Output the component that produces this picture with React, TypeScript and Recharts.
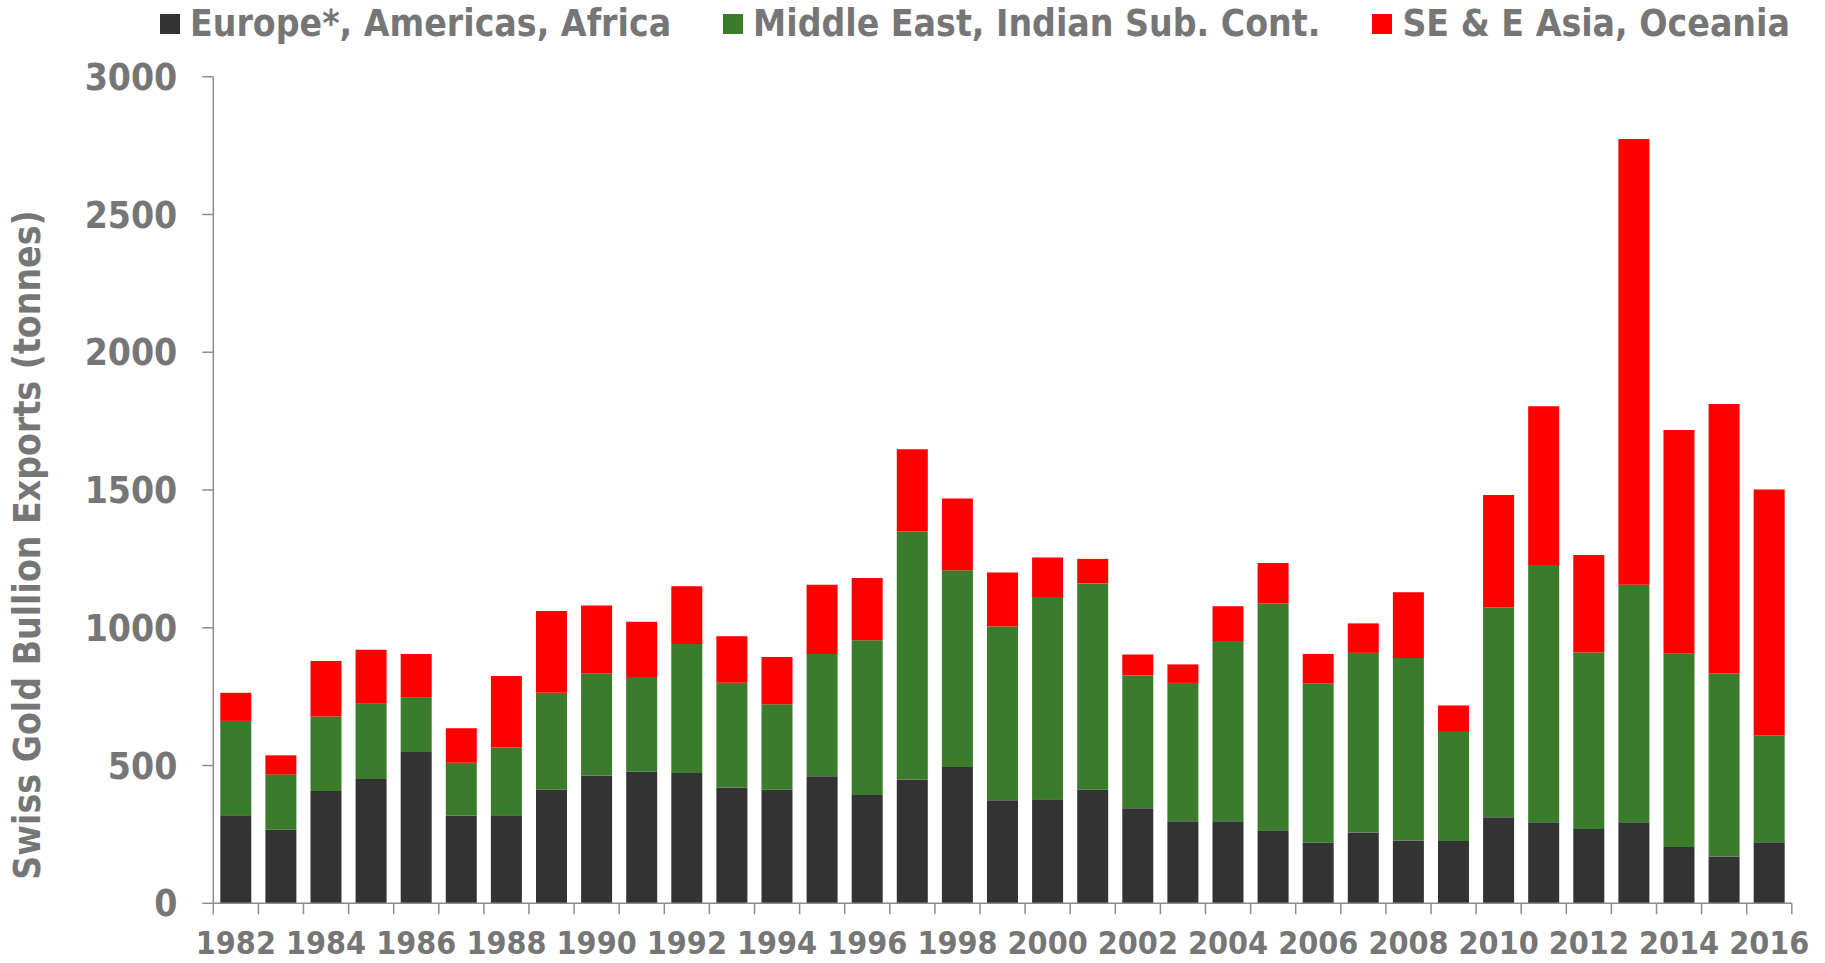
import React from 'react';
import { BarChart, Bar, XAxis, YAxis, Legend, Label } from 'recharts';

const years = [
  '1982', '1983', '1984', '1985', '1986', '1987', '1988', '1989', '1990', '1991',
  '1992', '1993', '1994', '1995', '1996', '1997', '1998', '1999', '2000', '2001',
  '2002', '2003', '2004', '2005', '2006', '2007', '2008', '2009', '2010', '2011',
  '2012', '2013', '2014', '2015', '2016',
];

const europeAmericasAfrica = [
  320, 267, 408, 451, 549, 319, 320, 412, 464, 477,
  473, 420, 412, 461, 393, 449, 495, 374, 378, 412,
  345, 298, 298, 265, 220, 257, 228, 226, 312, 294,
  270, 294, 204, 170, 222,
];

const middleEastIndia = [
  342, 201, 270, 273, 197, 191, 245, 352, 371, 344,
  468, 380, 310, 444, 562, 900, 714, 631, 734, 749,
  482, 502, 654, 823, 577, 652, 662, 396, 762, 934,
  640, 862, 702, 664, 388,
];

const asiaOceania = [
  102, 69, 201, 196, 159, 125, 260, 297, 246, 201,
  210, 169, 172, 251, 226, 299, 260, 196, 143, 89,
  76, 67, 126, 147, 108, 107, 239, 96, 408, 576,
  354, 1618, 812, 978, 892,
];

const seriesNames = ['Europe*, Americas, Africa', 'Middle East, Indian Sub. Cont.', 'SE & E Asia, Oceania'];
const seriesColors = ['#333333', '#3a7b2c', '#ff0000'];
const yTicks = [0, 500, 1000, 1500, 2000, 2500, 3000];
const yTitle = 'Swiss Gold Bullion Exports (tonnes)';

const data = years.map((year, i) => ({
  year,
  europe: europeAmericasAfrica[i],
  mideast: middleEastIndia[i],
  asia: asiaOceania[i],
}));

const FONT = "'DejaVu Sans Condensed', 'DejaVu Sans', sans-serif";
const TEXT_COLOR = '#767676';
const AXIS_COLOR = '#8c8c8c';

const XTick = (props: any) => {
  const { x, y, payload, index, width } = props;
  const half = payload && typeof payload.offset === 'number' && payload.offset > 0
    ? payload.offset
    : (width || 0) / years.length / 2;
  const isLast = index === years.length - 1;
  return (
    <g>
      <line x1={x - half} x2={x - half} y1={y} y2={y + 11} stroke={AXIS_COLOR} strokeWidth={1.5} />
      {isLast && (
        <line x1={x + half} x2={x + half} y1={y} y2={y + 11} stroke={AXIS_COLOR} strokeWidth={1.5} />
      )}
      {index % 2 === 0 && (
        <text
          x={x}
          y={y + 51}
          textAnchor="middle"
          fill={TEXT_COLOR}
          style={{ fontFamily: FONT, fontWeight: 700, fontSize: 32, fontStretch: 'condensed' }}
        >
          {payload.value}
        </text>
      )}
    </g>
  );
};

const LegendContent = (props: any) => {
  const payload = props.payload || [];
  return (
    <div
      style={{
        display: 'flex',
        alignItems: 'center',
        height: 48,
        paddingLeft: 160,
        fontFamily: FONT,
        fontWeight: 700,
        fontSize: 37,
        fontStretch: 'condensed',
        color: TEXT_COLOR,
        whiteSpace: 'nowrap',
      }}
    >
      {payload.map((entry: any, i: number) => (
        <div key={i} style={{ display: 'flex', alignItems: 'center', marginRight: 52 }}>
          <div style={{ width: 20, height: 20, background: entry.color, marginRight: 10 }} />
          <span style={{ lineHeight: '48px' }}>{entry.value}</span>
        </div>
      ))}
    </div>
  );
};

const YTitle = (props: any) => {
  const vb = props.viewBox || {};
  const cx = (vb.x || 0) - 23;
  const cy = (vb.y || 0) + (vb.height || 0) / 2 + 55;
  return (
    <text
      x={cx}
      y={cy}
      transform={`rotate(-90, ${cx}, ${cy})`}
      textAnchor="middle"
      fill={TEXT_COLOR}
      style={{ fontFamily: FONT, fontWeight: 700, fontSize: 37, fontStretch: 'condensed' }}
    >
      {yTitle}
    </text>
  );
};

export default function App() {
  return (
    <div style={{ position: 'absolute', left: 0, top: 0, width: 1825, height: 963, background: '#ffffff' }}>
      <BarChart
        width={1825}
        height={963}
        data={data}
        margin={{ top: 28.7, right: 33.2, left: 63.3, bottom: 0 }}
        barCategoryGap="15.5%"
      >
        <Legend
          verticalAlign="top"
          align="left"
          content={<LegendContent />}
          wrapperStyle={{ top: 0, left: 0, width: 1825 }}
        />
        <XAxis
          dataKey="year"
          height={59.7}
          interval={0}
          tickSize={0}
          tickMargin={0}
          tickLine={false}
          axisLine={{ stroke: AXIS_COLOR, strokeWidth: 1.5 }}
          tick={<XTick />}
        />
        <YAxis
          domain={[0, 3000]}
          ticks={yTicks}
          interval={0}
          width={150}
          tickSize={11}
          tickMargin={25}
          axisLine={{ stroke: AXIS_COLOR, strokeWidth: 1.5 }}
          tickLine={{ stroke: AXIS_COLOR, strokeWidth: 1.5 }}
          tick={{ fill: TEXT_COLOR, fontSize: 37, fontWeight: 700, fontFamily: FONT, style: { fontStretch: 'condensed' } }}
        >
          <Label content={<YTitle />} />
        </YAxis>
        <Bar dataKey="europe" stackId="a" name={seriesNames[0]} fill={seriesColors[0]} isAnimationActive={false} />
        <Bar dataKey="mideast" stackId="a" name={seriesNames[1]} fill={seriesColors[1]} isAnimationActive={false} />
        <Bar dataKey="asia" stackId="a" name={seriesNames[2]} fill={seriesColors[2]} isAnimationActive={false} />
      </BarChart>
    </div>
  );
}
